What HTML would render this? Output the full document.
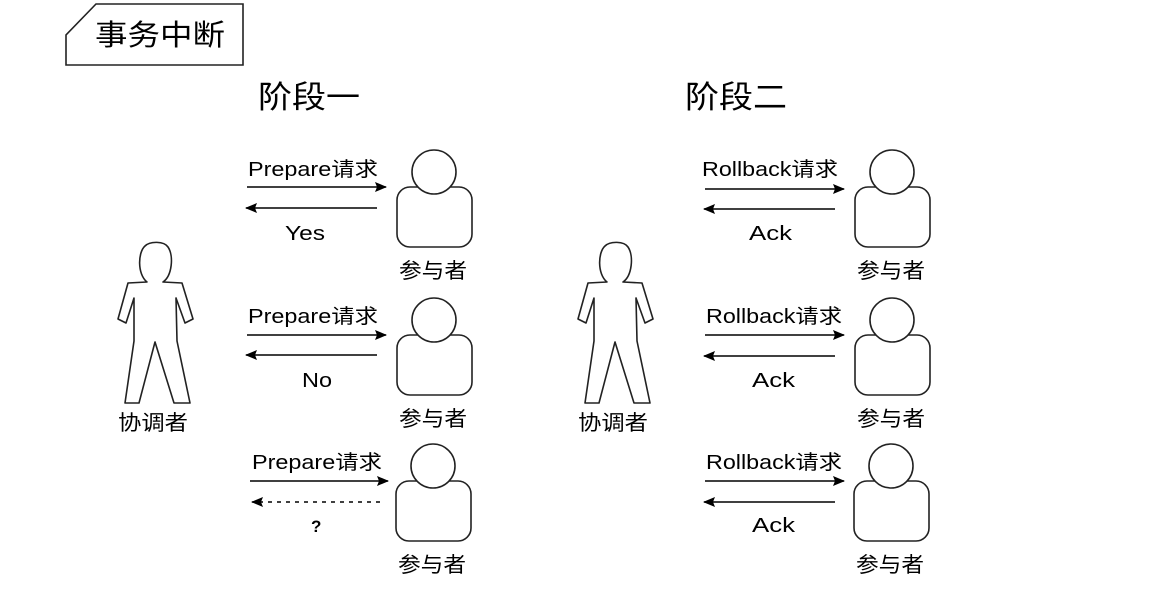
<!DOCTYPE html>
<html><head><meta charset="utf-8"><style>
html,body{margin:0;padding:0;background:#fff;}
svg{display:block;}
text{font-family:"Liberation Sans","Noto Sans CJK SC",sans-serif;fill:#000;}
</style></head><body>
<svg width="1163" height="592" viewBox="0 0 1163 592" xmlns="http://www.w3.org/2000/svg">
<defs>
<marker id="ah" viewBox="0 0 12 10" refX="11" refY="5" markerWidth="12" markerHeight="10" markerUnits="userSpaceOnUse" orient="auto"><path d="M0,0 L12,5 L0,10 L2,5 z" fill="#000"/></marker>
<g id="part">
<rect x="397" y="187" width="75" height="60" rx="13" fill="#fff" stroke="#222" stroke-width="1.6"/>
<circle cx="434" cy="172" r="22" fill="#fff" stroke="#222" stroke-width="1.6"/>
<text x="399" y="278" font-size="21" textLength="68" lengthAdjust="spacingAndGlyphs">参与者</text>
</g>
<g id="coord">
<path d="M147,282 C137,274 138,252 145,246 C150,241 164,241 168,247 C174,256 172,276 163,282 L182,283 L193,319 L185,323 L176,298 L177,341 L190,403 L174,403 L155,342 L139,403 L125,403 L134,341 L134,298 L126,323 L118,319 L128,283 Z" fill="#fff" stroke="#222" stroke-width="1.6" stroke-linejoin="round"/>
<text x="118" y="430" font-size="21" textLength="70" lengthAdjust="spacingAndGlyphs">协调者</text>
</g>
</defs>
<path d="M66,65 L66,35 L96,4 L243,4 L243,65 Z" fill="#fff" stroke="#222" stroke-width="1.6"/>
<text x="95" y="45" font-size="29" textLength="130" lengthAdjust="spacingAndGlyphs">事务中断</text>
<text x="258" y="108" font-size="31" fill="#333" textLength="102" lengthAdjust="spacingAndGlyphs">阶段一</text>
<text x="685" y="108" font-size="31" fill="#333" textLength="102" lengthAdjust="spacingAndGlyphs">阶段二</text>

<use href="#coord"/>
<use href="#coord" transform="translate(460,0)"/>

<g id="left">
<use href="#part"/>
<use href="#part" transform="translate(0,148)"/>
<use href="#part" transform="translate(-1,294)"/>
</g>
<use href="#left" transform="translate(458,0)"/>

<g stroke="#000" stroke-width="1.5">
<line x1="247" y1="187" x2="386" y2="187" marker-end="url(#ah)"/>
<line x1="377" y1="208" x2="246" y2="208" marker-end="url(#ah)"/>
<line x1="247" y1="335" x2="386" y2="335" marker-end="url(#ah)"/>
<line x1="377" y1="355" x2="246" y2="355" marker-end="url(#ah)"/>
<line x1="250" y1="481" x2="388" y2="481" marker-end="url(#ah)"/>
<line x1="380" y1="502" x2="252" y2="502" stroke-dasharray="4,5" marker-end="url(#ah)"/>

<line x1="705" y1="189" x2="844" y2="189" marker-end="url(#ah)"/>
<line x1="835" y1="209" x2="704" y2="209" marker-end="url(#ah)"/>
<line x1="705" y1="335" x2="844" y2="335" marker-end="url(#ah)"/>
<line x1="835" y1="356" x2="704" y2="356" marker-end="url(#ah)"/>
<line x1="705" y1="481" x2="844" y2="481" marker-end="url(#ah)"/>
<line x1="835" y1="502" x2="704" y2="502" marker-end="url(#ah)"/>
</g>

<g font-size="20">
<text x="248" y="176" textLength="130" lengthAdjust="spacingAndGlyphs">Prepare请求</text>
<text x="285" y="240" textLength="40" lengthAdjust="spacingAndGlyphs">Yes</text>
<text x="248" y="323" textLength="130" lengthAdjust="spacingAndGlyphs">Prepare请求</text>
<text x="302" y="387" textLength="30" lengthAdjust="spacingAndGlyphs">No</text>
<text x="252" y="469" textLength="130" lengthAdjust="spacingAndGlyphs">Prepare请求</text>
<text x="311" y="532" font-weight="bold" font-size="17">?</text>

<text x="702" y="176" textLength="136" lengthAdjust="spacingAndGlyphs">Rollback请求</text>
<text x="749" y="240" textLength="43" lengthAdjust="spacingAndGlyphs">Ack</text>
<text x="706" y="323" textLength="136" lengthAdjust="spacingAndGlyphs">Rollback请求</text>
<text x="752" y="387" textLength="43" lengthAdjust="spacingAndGlyphs">Ack</text>
<text x="706" y="469" textLength="136" lengthAdjust="spacingAndGlyphs">Rollback请求</text>
<text x="752" y="532" textLength="43" lengthAdjust="spacingAndGlyphs">Ack</text>
</g>
</svg>
</body></html>
